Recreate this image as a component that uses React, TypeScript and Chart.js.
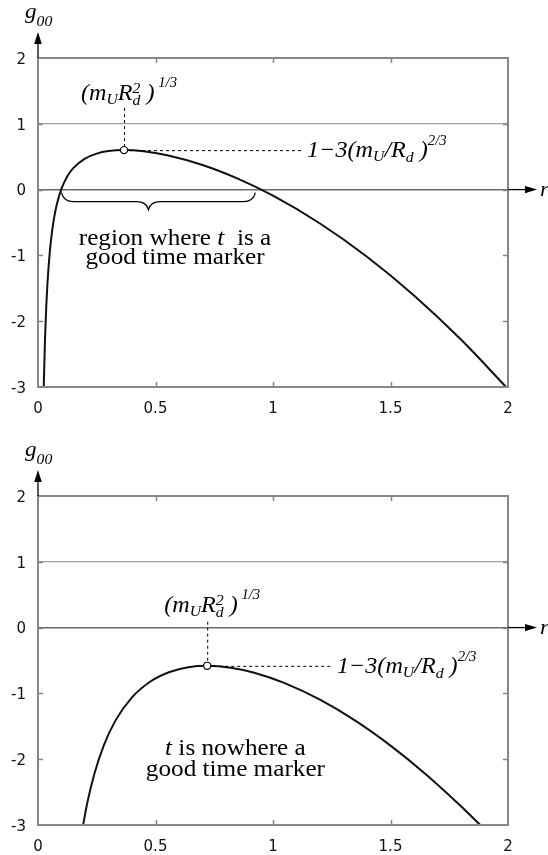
import React, { useEffect, useRef } from "react";
import { Chart, registerables } from "chart.js";

Chart.register(...registerables);

// Axis ticks shared by both panels
const R_TICKS = [0, 0.5, 1, 1.5, 2];
const G_TICKS = [2, 1, 0, -1, -2, -3];

// Upper panel: g00(r) with a positive maximum
const TOP_R = [0.0244, 0.03, 0.035, 0.04, 0.05, 0.06, 0.07, 0.08, 0.1, 0.125, 0.15, 0.2, 0.25, 0.3, 0.366, 0.45, 0.55, 0.7, 0.85, 1.0, 1.2, 1.4, 1.6, 1.8, 1.992];
const TOP_G = [-3.0, -2.254, -1.79, -1.442, -0.954, -0.63, -0.399, -0.226, 0.014, 0.204, 0.327, 0.472, 0.547, 0.585, 0.6, 0.582, 0.521, 0.373, 0.166, -0.093, -0.515, -1.021, -1.609, -2.279, -3.0];

// Lower panel: g00(r) staying negative everywhere
const BOT_R = [0.192, 0.21, 0.24, 0.28, 0.33, 0.4, 0.48, 0.56, 0.64, 0.72, 0.82, 0.92, 1.05, 1.2, 1.35, 1.5, 1.65, 1.8, 1.882];
const BOT_G = [-3.0, -2.658, -2.22, -1.79, -1.41, -1.06, -0.815, -0.674, -0.602, -0.581, -0.609, -0.685, -0.843, -1.096, -1.414, -1.793, -2.227, -2.714, -3.0];

// Maximum of each curve: [upper, lower]
const PEAK_R = [0.366, 0.72];
const PEAK_G = [0.6, -0.581];

const SERIF = '"Liberation Serif", "Times New Roman", serif';
const SANS = '"DejaVu Sans", "Liberation Sans", Arial, sans-serif';
const TEXT_STRETCH = 1.05;

type Seg = { t: string; size: number; dy: number; keep?: boolean; italic?: boolean };

const PEAK_R_LABEL: Seg[] = [
  { t: "(m", size: 23, dy: 0 },
  { t: "U", size: 15, dy: 4 },
  { t: "R", size: 23, dy: 0 },
  { t: "2", size: 15, dy: -7, keep: true },
  { t: "d", size: 15, dy: 5 },
  { t: " )", size: 23, dy: 0 },
  { t: " 1/3", size: 14, dy: -13 },
];

const PEAK_G_LABEL: Seg[] = [
  { t: "1\u22123(m", size: 23, dy: 0 },
  { t: "U", size: 15, dy: 4 },
  { t: "/R", size: 23, dy: 0 },
  { t: "d", size: 15, dy: 5 },
  { t: " )", size: 23, dy: 0 },
  { t: "2/3", size: 14, dy: -12 },
];

const TOP_NOTE: Seg[][] = [
  [
    { t: "region where ", size: 24, dy: 0, italic: false },
    { t: "t", size: 24, dy: 0 },
    { t: "  is a", size: 24, dy: 0, italic: false },
  ],
  [{ t: "good time marker", size: 24, dy: 0, italic: false }],
];

const BOT_NOTE: Seg[][] = [
  [
    { t: "t", size: 24, dy: 0 },
    { t: " is nowhere a", size: 24, dy: 0, italic: false },
  ],
  [{ t: "good time marker", size: 24, dy: 0, italic: false }],
];

const segFont = (s: Seg) => `${s.italic === false ? "" : "italic "}${s.size}px ${SERIF}`;

function segWidth(ctx: CanvasRenderingContext2D, segs: Seg[]) {
  let w = 0;
  for (const s of segs) {
    ctx.font = segFont(s);
    if (!s.keep) w += ctx.measureText(s.t).width;
  }
  return w * TEXT_STRETCH;
}

function drawSegs(ctx: CanvasRenderingContext2D, segs: Seg[], x: number, y: number) {
  ctx.save();
  ctx.translate(x, y);
  ctx.scale(TEXT_STRETCH, 1);
  let cx = 0;
  ctx.textBaseline = "alphabetic";
  ctx.textAlign = "left";
  for (const s of segs) {
    ctx.font = segFont(s);
    ctx.fillText(s.t, cx, s.dy);
    if (!s.keep) cx += ctx.measureText(s.t).width;
  }
  ctx.restore();
}

type PanelCfg = {
  height: number;
  top: number;
  bottom: number;
  rs: number[];
  gs: number[];
  peak: number;
  rLabelG: number; // baseline of the (m_U R_d^2)^(1/3) label, data units
  dashTopG: number; // where the vertical dashed line starts
  gLabelR: number; // left end of the 1-3(...) label
  note: Seg[][];
  noteR: number;
  noteG: number;
  noteGap: number;
  brace?: [number, number, number];
};

function makeDeco(cfg: PanelCfg) {
  return {
    id: "deco",
    afterDatasetsDraw(chart: any) {
      const { ctx, chartArea: a } = chart;
      const xs = chart.scales.x;
      const ys = chart.scales.y;
      const line = (x1: number, y1: number, x2: number, y2: number) => {
        ctx.beginPath();
        ctx.moveTo(x1, y1);
        ctx.lineTo(x2, y2);
        ctx.stroke();
      };
      ctx.save();

      // frame
      ctx.strokeStyle = "#868686";
      ctx.lineWidth = 2;
      ctx.strokeRect(a.left, a.top, a.right - a.left, a.bottom - a.top);

      // inward tick marks on all four sides
      ctx.lineWidth = 1.5;
      for (const v of R_TICKS.slice(1, -1)) {
        const px = Math.round(xs.getPixelForValue(v)) + 0.5;
        line(px, a.top, px, a.top + 5);
        line(px, a.bottom, px, a.bottom - 5);
      }
      for (const v of G_TICKS.slice(1, -1)) {
        const py = Math.round(ys.getPixelForValue(v)) + 0.5;
        line(a.left, py, a.left + 5, py);
        line(a.right, py, a.right - 5, py);
      }

      // vertical g00 axis with arrow
      const x0 = xs.getPixelForValue(0);
      const tipY = a.top - 26;
      ctx.strokeStyle = "#000";
      ctx.fillStyle = "#000";
      ctx.lineWidth = 1.3;
      line(x0, a.top, x0, tipY + 8);
      ctx.beginPath();
      ctx.moveTo(x0, tipY);
      ctx.lineTo(x0 - 3.8, tipY + 12);
      ctx.lineTo(x0 + 3.8, tipY + 12);
      ctx.closePath();
      ctx.fill();
      drawSegs(ctx, [{ t: "g", size: 22, dy: 0 }, { t: "00", size: 15, dy: 8 }], x0 - 13, tipY - 14);

      // horizontal r axis arrow
      const y0 = ys.getPixelForValue(0);
      const tipX = a.right + 29;
      line(a.right, y0, tipX - 8, y0);
      ctx.beginPath();
      ctx.moveTo(tipX, y0);
      ctx.lineTo(tipX - 12, y0 - 3.6);
      ctx.lineTo(tipX - 12, y0 + 3.6);
      ctx.closePath();
      ctx.fill();
      drawSegs(ctx, [{ t: "r", size: 22, dy: 0 }], tipX + 3, y0 + 6);

      // maximum of the curve with dashed guides and labels
      const pr = PEAK_R[cfg.peak];
      const pg = PEAK_G[cfg.peak];
      const px = xs.getPixelForValue(pr);
      const py = ys.getPixelForValue(pg);
      const gLabelX = xs.getPixelForValue(cfg.gLabelR);
      ctx.lineWidth = 1;
      ctx.setLineDash([3, 3]);
      line(px + 0.5, ys.getPixelForValue(cfg.dashTopG), px + 0.5, py);
      line(px, py + 0.5, gLabelX - 4, py + 0.5);
      ctx.setLineDash([]);

      const w1 = segWidth(ctx, PEAK_R_LABEL);
      drawSegs(ctx, PEAK_R_LABEL, px - w1 / 2 + 5, ys.getPixelForValue(cfg.rLabelG));
      drawSegs(ctx, PEAK_G_LABEL, gLabelX, py + 7);

      ctx.beginPath();
      ctx.arc(px, py, 3.6, 0, Math.PI * 2);
      ctx.fillStyle = "#fff";
      ctx.fill();
      ctx.strokeStyle = "#000";
      ctx.lineWidth = 1.2;
      ctx.stroke();
      ctx.fillStyle = "#000";

      // curly brace under the positive part of the curve
      if (cfg.brace) {
        const [r1, r2, rm] = cfg.brace;
        const bx1 = xs.getPixelForValue(r1);
        const bx2 = xs.getPixelForValue(r2);
        const bm = xs.getPixelForValue(rm);
        const top = y0 + 3;
        const mid = top + 9;
        const tip = top + 17;
        ctx.lineWidth = 1.2;
        ctx.beginPath();
        ctx.moveTo(bx1, top);
        ctx.quadraticCurveTo(bx1 + 2, mid, bx1 + 12, mid);
        ctx.lineTo(bm - 12, mid);
        ctx.quadraticCurveTo(bm - 2, mid, bm, tip);
        ctx.quadraticCurveTo(bm + 2, mid, bm + 12, mid);
        ctx.lineTo(bx2 - 12, mid);
        ctx.quadraticCurveTo(bx2 - 2, mid, bx2, top);
        ctx.stroke();
      }

      // explanatory note
      const nx = xs.getPixelForValue(cfg.noteR);
      let ny = ys.getPixelForValue(cfg.noteG);
      for (const row of cfg.note) {
        const w = segWidth(ctx, row);
        drawSegs(ctx, row, nx - w / 2, ny);
        ny += cfg.noteGap;
      }
      ctx.restore();
    },
  };
}

function Panel({ cfg }: { cfg: PanelCfg }) {
  const ref = useRef<HTMLCanvasElement>(null);
  useEffect(() => {
    if (!ref.current) return;
    const tickFont = { family: SANS, size: 15 };
    const chart = new Chart(ref.current, {
      type: "line",
      data: {
        datasets: [
          {
            data: cfg.rs.map((r, i) => ({ x: r, y: cfg.gs[i] })),
            borderColor: "#111",
            borderWidth: 2,
            pointRadius: 0,
            fill: false,
            cubicInterpolationMode: "monotone",
          },
        ],
      },
      options: {
        responsive: false,
        animation: false,
        events: [],
        layout: { padding: { top: cfg.top, right: 40, left: 0, bottom: 0 } },
        plugins: { legend: { display: false }, tooltip: { enabled: false } },
        scales: {
          x: {
            type: "linear",
            min: 0,
            max: 2,
            afterBuildTicks: (s: any) => {
              s.ticks = R_TICKS.map((v) => ({ value: v }));
            },
            afterFit: (s: any) => {
              s.height = cfg.height - cfg.bottom;
            },
            grid: { display: false, drawTicks: false },
            border: { display: false },
            ticks: {
              padding: 13,
              color: "#111",
              font: tickFont,
              maxRotation: 0,
              autoSkip: false,
              callback: (v: any) => String(v),
            },
          },
          y: {
            type: "linear",
            min: -3,
            max: 2,
            afterBuildTicks: (s: any) => {
              s.ticks = G_TICKS.map((v) => ({ value: v }));
            },
            afterFit: (s: any) => {
              s.width = 38;
            },
            grid: {
              drawTicks: false,
              color: (c: any) =>
                c.tick && c.tick.value === 0 ? "#6a6a6a" : c.tick && c.tick.value === 1 ? "#a0a0a0" : "rgba(0,0,0,0)",
              lineWidth: (c: any) => (c.tick && c.tick.value === 0 ? 1.6 : 1.2),
            },
            border: { display: false },
            ticks: {
              padding: 12,
              labelOffset: 2,
              color: "#111",
              font: tickFont,
              autoSkip: false,
              callback: (v: any) => String(v),
            },
          },
        },
      },
      plugins: [makeDeco(cfg)],
    } as any);
    return () => chart.destroy();
  }, [cfg]);
  return <canvas ref={ref} width={548} height={cfg.height} style={{ display: "block" }} />;
}

const TOP_PANEL: PanelCfg = {
  height: 430,
  top: 58,
  bottom: 387,
  rs: TOP_R,
  gs: TOP_G,
  peak: 0,
  rLabelG: 1.36,
  dashTopG: 1.24,
  gLabelR: 1.145,
  note: TOP_NOTE,
  noteR: 0.583,
  noteG: -0.84,
  noteGap: 19,
  brace: [0.1, 0.925, 0.47],
};

const BOT_PANEL: PanelCfg = {
  height: 425,
  top: 66,
  bottom: 395,
  rs: BOT_R,
  gs: BOT_G,
  peak: 1,
  rLabelG: 0.23,
  dashTopG: 0.09,
  gLabelR: 1.272,
  note: BOT_NOTE,
  noteR: 0.84,
  noteG: -1.93,
  noteGap: 21,
};

export default function App() {
  return (
    <div style={{ position: "absolute", left: 0, top: 0, width: 548, height: 855, background: "#fff" }}>
      <Panel cfg={TOP_PANEL} />
      <Panel cfg={BOT_PANEL} />
    </div>
  );
}
